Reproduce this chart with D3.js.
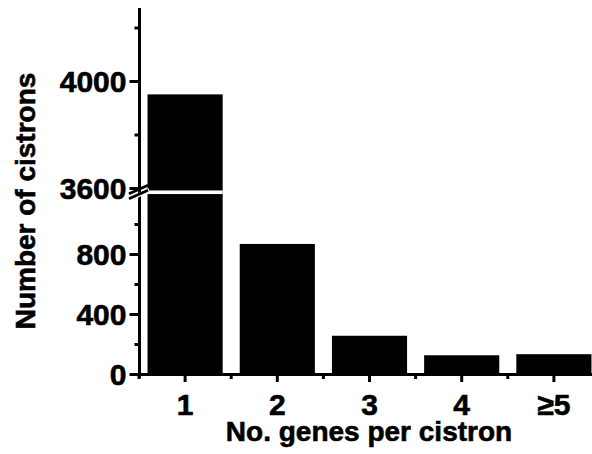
<!DOCTYPE html>
<html>
<head>
<meta charset="utf-8">
<script src="https://cdn.jsdelivr.net/npm/d3@7/dist/d3.min.js"></script>
<style>
  html, body { margin: 0; padding: 0; background: #fff; }
  svg text { font-family: "Liberation Sans", Arial, sans-serif; font-weight: bold; fill: #000; stroke: #000; stroke-width: 0.6px; }
</style>
</head>
<body>
<svg id="chart" width="592" height="454"></svg>
<script>
// Number of cistrons by number of genes per cistron
const categories = ["1", "2", "3", "4", "\u22655"];
const counts = [3950, 867, 255, 125, 132];

// Broken y axis: a lower part and an upper part
const yLowTicks = [0, 400, 800];
const yLowMinor = [200, 600, 1000];
const yHighTicks = [3600, 4000];
const yHighMinor = [3800, 4200];
const yBreak = [1190, 3600];
const yMax = 4273;

const xTitle = "No. genes per cistron";
const yTitle = "Number of cistrons";

const svg = d3.select("#chart");
const tickFont = 30;
const titleFont = 28;

const x = d3.scaleBand()
  .domain(categories)
  .range([139, 600])
  .paddingInner(0.185)
  .paddingOuter(0.0925);

// Piecewise scale: the stretch between the two break values collapses into the gap
const y = d3.scaleLinear()
  .domain([0, yBreak[0], yBreak[1], yMax])
  .range([374, 195.5, 188, 8]);

// Bars
svg.append("g")
  .selectAll("rect")
  .data(counts)
  .join("rect")
  .attr("x", (d, i) => x(categories[i]))
  .attr("width", x.bandwidth())
  .attr("y", d => y(d))
  .attr("height", d => y(0) - y(d))
  .attr("fill", "#000");

// Y axis (major ticks with labels)
const yAxis = svg.append("g")
  .attr("transform", "translate(139.5,0)")
  .call(d3.axisLeft(y)
    .tickValues(yLowTicks.concat(yHighTicks))
    .tickFormat(d3.format("d"))
    .tickSize(10)
    .tickSizeOuter(0)
    .tickPadding(3));
yAxis.select(".domain").attr("stroke-width", 3).attr("d", `M0,${y(yMax)}V${y(0) + 4}`);
yAxis.selectAll(".tick line").attr("stroke-width", 3);
yAxis.selectAll(".tick text").style("font-size", tickFont + "px").attr("dy", "0.36em");

// Y axis minor ticks
svg.append("g")
  .attr("transform", "translate(139.5,0)")
  .call(d3.axisLeft(y).tickValues(yLowMinor.concat(yHighMinor)).tickSize(5).tickFormat(""))
  .call(g => g.select(".domain").remove())
  .call(g => g.selectAll(".tick line").attr("stroke-width", 3));

// X axis
const xAxis = svg.append("g")
  .attr("transform", `translate(0,${y(0)})`)
  .call(d3.axisBottom(x).tickSize(8).tickSizeOuter(0).tickPadding(12));
xAxis.select(".domain").attr("stroke-width", 3);
xAxis.selectAll(".tick line").attr("stroke-width", 3);
xAxis.selectAll(".tick text").style("font-size", tickFont + "px").attr("dy", "0.71em");

// X axis minor ticks on the category boundaries
const boundaries = categories.map(c => x(c) - x.step() * x.paddingInner() / 2);
svg.append("g")
  .selectAll("line")
  .data(boundaries)
  .join("line")
  .attr("x1", d => d).attr("x2", d => d)
  .attr("y1", y(0)).attr("y2", y(0) + 5)
  .attr("stroke", "#000").attr("stroke-width", 3);

// Axis break: white cut through the axis and the tall bar, with two slashes
const yc = (y(yBreak[0]) + y(yBreak[1])) / 2 + 0.5;
const brk = svg.append("g");
brk.append("rect")
  .attr("x", 141.5).attr("width", x(categories[0]) + x.bandwidth() - 141.5)
  .attr("y", yc - 1.8).attr("height", 3.6)
  .attr("fill", "#fff");
brk.append("polygon")
  .attr("points", [[129, yc + 5], [149, yc - 4], [149, yc + 0.5], [129, yc + 9.5]].map(p => p.join(",")).join(" "))
  .attr("fill", "#fff");
[0, 5].forEach(o => {
  brk.append("line")
    .attr("x1", 129).attr("y1", yc + 1.5 + o)
    .attr("x2", 148).attr("y2", yc - 7 + o)
    .attr("stroke", "#000").attr("stroke-width", 2.8);
});

// Axis titles
svg.append("text")
  .attr("x", 369).attr("y", 441)
  .attr("text-anchor", "middle")
  .style("font-size", titleFont + "px")
  .text(xTitle);

svg.append("text")
  .attr("transform", "translate(35,201) rotate(-90)")
  .attr("text-anchor", "middle")
  .style("font-size", titleFont + "px")
  .text(yTitle);
</script>
</body>
</html>
